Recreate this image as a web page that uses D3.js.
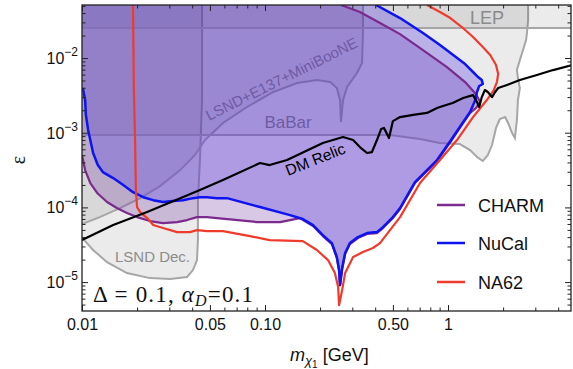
<!DOCTYPE html>
<html><head><meta charset="utf-8">
<script src="https://cdn.jsdelivr.net/npm/d3@7"></script>
<style>body{margin:0;background:#fff}svg{display:block}</style>
</head><body><svg id="c" width="573" height="369"></svg>
<script>
// ---------- tick values ----------
const xMajor = [0.01, 0.05, 0.1, 0.5, 1];
const xMajorLabels = ["0.01", "0.05", "0.10", "0.50", "1"];
const xMinor = [0.02, 0.03, 0.04, 0.06, 0.07, 0.08, 0.09, 0.2, 0.3, 0.4, 0.6, 0.7, 0.8, 0.9, 2, 3, 4];
const yMajor = [1e-5, 1e-4, 1e-3, 1e-2];
const yMajorExp = ["−5", "−4", "−3", "−2"];
const yMinor = [5e-6, 6e-6, 7e-6, 8e-6, 9e-6, 2e-5, 3e-5, 4e-5, 5e-5, 6e-5, 7e-5, 8e-5, 9e-5,
  2e-4, 3e-4, 4e-4, 5e-4, 6e-4, 7e-4, 8e-4, 9e-4, 2e-3, 3e-3, 4e-3, 5e-3, 6e-3, 7e-3, 8e-3, 9e-3,
  2e-2, 3e-2, 4e-2, 5e-2];

// ---------- NuCal (blue) ----------
const nucalX = [0.0101,0.0104,0.0105,0.0108,0.0111,0.0115,0.0122,0.0130,0.0148,0.0168,0.0190,0.0216,0.0245,0.0277,0.0314,0.0357,0.0404,0.0441,0.0482,0.0547,0.0620,0.0939,0.137,0.161,0.183,0.207,0.232,0.247,0.254,0.257,0.264,0.274,0.291,0.322,0.361,0.409,0.441,0.500,0.547,0.660,0.871,1.03,1.19,1.32,1.41,1.44,1.48,1.55,1.53,1.46,1.37,1.24,1.09,0.904,0.730,0.547,0.404];
const nucalY = [0.00397,0.00274,0.00173,0.00109,0.000798,0.000535,0.000369,0.000297,0.000247,0.000199,0.000160,0.000137,0.000125,0.000118,0.000122,0.000125,0.000133,0.000137,0.000137,0.000133,0.000133,0.000101,0.0000789,0.0000698,0.0000580,0.0000426,0.0000333,0.0000216,0.0000145,0.00000912,0.0000154,0.0000245,0.0000333,0.0000401,0.0000453,0.0000467,0.0000545,0.0000742,0.0000980,0.000218,0.000431,0.000773,0.00131,0.00189,0.00274,0.00351,0.00422,0.00449,0.00507,0.00557,0.00650,0.00831,0.0106,0.0149,0.0216,0.0343,0.0513];

// ---------- CHARM (purple) ----------
const charmX = [0.0100,0.0104,0.0111,0.0121,0.0137,0.0155,0.0176,0.0200,0.0235,0.0277,0.0331,0.0375,0.0425,0.0482,0.0547,0.0904,0.121,0.155,0.183,0.207,0.232,0.247,0.254,0.257,0.264,0.274,0.291,0.322,0.361,0.409,0.441,0.500,0.547,0.660,0.871,1.03,1.19,1.32,1.42,1.50,1.42,1.24,0.987,0.730,0.547,0.425,0.330,0.260];
const charmY = [0.000502,0.000316,0.000212,0.000156,0.000118,0.0000980,0.0000840,0.0000742,0.0000656,0.0000617,0.0000636,0.0000677,0.0000742,0.0000742,0.0000720,0.0000636,0.0000636,0.0000720,0.0000562,0.0000413,0.0000323,0.0000210,0.0000140,0.00000912,0.0000149,0.0000237,0.0000323,0.0000388,0.0000440,0.0000453,0.0000529,0.0000720,0.0000951,0.000212,0.000418,0.000750,0.00127,0.00184,0.00214,0.00258,0.00330,0.00477,0.00757,0.0128,0.0209,0.0294,0.0413,0.0513];

// ---------- NA62 (red) ----------
const na62X = [0.0190,0.0192,0.0195,0.0197,0.0200,0.0208,0.0227,0.0245,0.0277,0.0331,0.0389,0.0425,0.0482,0.0589,0.0828,0.106,0.161,0.192,0.221,0.241,0.251,0.254,0.264,0.274,0.303,0.343,0.389,0.425,0.482,0.547,0.703,0.904,1.12,1.37,1.63,1.78,1.85,1.88,1.83,1.70,1.55,1.37,1.19,1.03,0.904,0.768];
const na62Y = [0.0513,0.00373,0.000798,0.000171,0.000101,0.0000866,0.0000720,0.0000580,0.0000529,0.0000467,0.0000467,0.0000497,0.0000482,0.0000482,0.0000413,0.0000365,0.0000354,0.0000269,0.0000197,0.0000132,0.00000857,0.00000492,0.00000782,0.0000132,0.0000216,0.0000252,0.0000286,0.0000333,0.0000497,0.0000742,0.000212,0.000431,0.000798,0.00162,0.00274,0.00373,0.00477,0.00611,0.00806,0.0110,0.0140,0.0191,0.0260,0.0343,0.0413,0.0513];

// ---------- DM relic (black) ----------
const relicX = [0.0100,0.0148,0.0227,0.0344,0.0441,0.0589,0.0939,0.106,0.132,0.207,0.267,0.303,0.330,0.361,0.384,0.409,0.431,0.447,0.476,0.500,0.547,0.644,0.768,0.871,0.939,1.06,1.21,1.37,1.44,1.48,1.53,1.59,1.65,1.74,1.81,1.88,2.10,2.47,3.06,3.75,4.76];
const relicY = [0.0000365,0.0000580,0.0000866,0.000133,0.000171,0.000232,0.000393,0.000369,0.000431,0.000728,0.000875,0.000798,0.000643,0.000535,0.000551,0.000798,0.00112,0.00116,0.000849,0.00143,0.00162,0.00173,0.00184,0.00214,0.00228,0.00250,0.00291,0.00319,0.00258,0.00221,0.00300,0.00373,0.00351,0.00300,0.00351,0.00397,0.00435,0.00507,0.00592,0.00690,0.00806];

// ---------- grey excluded regions ----------
const lsndDecX = [0.0100,0.0104,0.0115,0.0137,0.0176,0.0235,0.0303,0.0375,0.0404,0.0425,0.0430,0.0430,0.0441,0.0453,0.0453];
const lsndDecY = [0.0000388,0.0000354,0.0000269,0.0000185,0.0000132,0.0000113,0.0000110,0.0000117,0.0000145,0.0000197,0.0000365,0.000125,0.000431,0.00274,0.07];
const e137X = [0.0100,0.0125,0.0161,0.0208,0.0267,0.0344,0.0414,0.0470,0.0589,0.0797,0.111,0.150,0.192,0.227,0.247,0.257,0.260,0.267,0.281,0.318,0.339,0.343,0.343];
const e137Y = [0.0000598,0.0000742,0.0000980,0.000133,0.000193,0.000316,0.000502,0.000798,0.00135,0.00221,0.00351,0.00463,0.00507,0.00477,0.00397,0.00274,0.00139,0.00274,0.00409,0.00630,0.00857,0.0216,0.07];
const babarX = [0.0100,0.482,0.703,0.904,1.16,1.32,1.44,1.55,1.65,1.74,1.83,1.92,2.05,2.13,2.24,2.32,2.38,2.41,2.47,2.41,2.38,2.47,2.57,2.67,2.70,2.74,2.74];
const babarY = [0.000931,0.000931,0.000823,0.000728,0.000705,0.000586,0.000472,0.000418,0.000502,0.000684,0.00116,0.00152,0.00162,0.00135,0.000991,0.000849,0.00148,0.00274,0.00397,0.00540,0.00690,0.00940,0.0128,0.0174,0.0216,0.0323,0.07];
const lepX = [0.0100, 4.70];
const lepY = [0.0252, 0.0252];

// ---------- legend ----------
const legendNames = ["CHARM", "NuCal", "NA62"];
const legendColors = ["#7b2a8e", "#0d14f0", "#ef3b2c"];

// ---------- layout ----------
const L = 82, R = 571, T = 5, B = 311;
const x = d3.scaleLog().domain([0.01, 4.7]).range([L, R]);
const y = d3.scaleLog().domain([4.1e-6, 0.0513]).range([B, T]);
const xLo = 0.009, yHi = 0.07;

const svg = d3.select("#c");
svg.append("rect").attr("width", 573).attr("height", 369).attr("fill", "#fff");
svg.append("clipPath").attr("id", "clip").append("rect")
  .attr("x", L).attr("y", T).attr("width", R - L).attr("height", B - T);
const plot = svg.append("g").attr("clip-path", "url(#clip)");

const zip = (xs, ys) => xs.map((v, i) => [v, ys[i]]);
const line = d3.line().x(d => x(d[0])).y(d => y(d[1]));

const grayFill = "rgba(0,0,0,0.08)", grayStroke = "#a6a6a6";
function grayRegion(pts, closing) {
  plot.append("path").attr("d", line(pts.concat(closing)) + "Z").attr("fill", grayFill);
  plot.append("path").attr("d", line(pts)).attr("fill", "none").attr("stroke", grayStroke).attr("stroke-width", 2);
}
grayRegion(zip(lsndDecX, lsndDecY), [[xLo, yHi], [xLo, lsndDecY[0]]]);
grayRegion(zip(e137X, e137Y), [[xLo, yHi], [xLo, e137Y[0]]]);
grayRegion(zip(babarX, babarY), [[xLo, yHi], [xLo, babarY[0]]]);
grayRegion(zip(lepX, lepY), [[5, lepY[1]], [5, yHi], [xLo, yHi], [xLo, lepY[0]]]);

// grey labels (under the coloured fills)
const sans = "Liberation Sans, Arial, sans-serif";
plot.append("text").attr("x", 487).attr("y", 24).attr("text-anchor", "middle")
  .attr("font-family", sans).attr("font-size", 18).attr("fill", "#8a8a8a").text("LEP");
plot.append("text").attr("x", 288).attr("y", 128).attr("text-anchor", "middle")
  .attr("font-family", sans).attr("font-size", 17).attr("fill", "#7a7a7a").text("BaBar");
plot.append("text").attr("transform", "translate(209,121) rotate(-26.5)")
  .attr("font-family", sans).attr("font-size", 15).attr("fill", "#7a7a7a").text("LSND+E137+MiniBooNE");
plot.append("text").attr("x", 115).attr("y", 262)
  .attr("font-family", sans).attr("font-size", 15).attr("fill", "#8c8c8c").text("LSND Dec.");

// coloured fills
const charmPts = zip(charmX, charmY);
const nucalPts = zip(nucalX, nucalY);
plot.append("path").attr("d", line(charmPts.concat([[xLo, yHi], [xLo, charmY[0]]])) + "Z")
  .attr("fill", "rgba(105,35,150,0.25)");
plot.append("path").attr("d", line([[xLo, nucalY[0]]].concat(nucalPts, [[nucalX[nucalX.length - 1], yHi], [xLo, yHi]])) + "Z")
  .attr("fill", "rgba(98,76,228,0.36)");

// curves
plot.append("path").attr("d", line(charmPts)).attr("fill", "none")
  .attr("stroke", legendColors[0]).attr("stroke-width", 2.2).attr("stroke-linejoin", "round");
plot.append("path").attr("d", line(nucalPts)).attr("fill", "none")
  .attr("stroke", legendColors[1]).attr("stroke-width", 2.5).attr("stroke-linejoin", "round");
plot.append("path").attr("d", line(zip(na62X, na62Y))).attr("fill", "none")
  .attr("stroke", legendColors[2]).attr("stroke-width", 2.2).attr("stroke-linejoin", "round");
plot.append("path").attr("d", line(zip(relicX, relicY))).attr("fill", "none")
  .attr("stroke", "#000").attr("stroke-width", 2.2).attr("stroke-linejoin", "round");

plot.append("text").attr("transform", "translate(288,176) rotate(-21.5)")
  .attr("font-family", sans).attr("font-size", 15.5).attr("fill", "#000").text("DM Relic");

// ---------- axes ----------
function addAxis(axis, tr) {
  const a = svg.append("g").attr("transform", tr).call(axis);
  a.select(".domain").remove();
  a.selectAll("line").attr("stroke", "#222");
  return a;
}
const xb = addAxis(d3.axisBottom(x).tickValues(xMajor).tickSize(-6).tickPadding(8)
  .tickFormat((d, i) => xMajorLabels[i]), `translate(0,${B})`);
xb.selectAll("text").attr("font-family", sans).attr("font-size", 16).attr("fill", "#111");
addAxis(d3.axisBottom(x).tickValues(xMinor).tickSize(-3.5).tickFormat(""), `translate(0,${B})`);
addAxis(d3.axisTop(x).tickValues(xMajor).tickSize(-6).tickFormat(""), `translate(0,${T})`);
addAxis(d3.axisTop(x).tickValues(xMinor).tickSize(-3.5).tickFormat(""), `translate(0,${T})`);
addAxis(d3.axisLeft(y).tickValues(yMajor).tickSize(-6).tickFormat(""), `translate(${L},0)`);
addAxis(d3.axisLeft(y).tickValues(yMinor).tickSize(-3.5).tickFormat(""), `translate(${L},0)`);
addAxis(d3.axisRight(y).tickValues(yMajor).tickSize(-6).tickFormat(""), `translate(${R},0)`);
addAxis(d3.axisRight(y).tickValues(yMinor).tickSize(-3.5).tickFormat(""), `translate(${R},0)`);

// y tick labels 10^n
yMajor.forEach((v, i) => {
  const t = svg.append("text").attr("x", 78).attr("y", y(v) + 6).attr("text-anchor", "end")
    .attr("font-family", sans).attr("font-size", 16).attr("fill", "#111");
  t.append("tspan").text("10");
  t.append("tspan").attr("font-size", 12).attr("dy", -8).text(yMajorExp[i]);
});

// frame
svg.append("rect").attr("x", L).attr("y", T).attr("width", R - L).attr("height", B - T)
  .attr("fill", "none").attr("stroke", "#222").attr("stroke-width", 1.3);

// axis titles
svg.append("text").attr("transform", "translate(25,160) rotate(-90)").attr("text-anchor", "middle")
  .attr("font-family", "Liberation Serif, serif").attr("font-size", 20).attr("fill", "#111").text("ε");
const xt = svg.append("text").attr("x", 290).attr("y", 361).attr("font-family", sans)
  .attr("font-size", 18).attr("fill", "#111");
xt.append("tspan").attr("font-style", "italic").text("m");
xt.append("tspan").attr("font-style", "italic").attr("font-size", 13).attr("dy", 4).text("χ");
xt.append("tspan").attr("font-size", 10).attr("dy", 3).text("1");
xt.append("tspan").attr("dy", -7).text(" [GeV]");

// legend
legendNames.forEach((n, i) => {
  const yy = [205, 243, 282][i];
  svg.append("line").attr("x1", 437).attr("x2", 465).attr("y1", yy).attr("y2", yy)
    .attr("stroke", legendColors[i]).attr("stroke-width", 2.5);
  svg.append("text").attr("x", 478).attr("y", yy + 6.5).attr("font-family", sans)
    .attr("font-size", 18).attr("fill", "#111").text(n);
});

// annotation
const an = svg.append("text").attr("x", 93).attr("y", 302)
  .attr("font-family", "Liberation Serif, serif").attr("font-size", 23).attr("fill", "#111")
  .attr("textLength", 160).attr("lengthAdjust", "spacing");
an.append("tspan").text("Δ = 0.1, ");
an.append("tspan").attr("font-style", "italic").text("α");
an.append("tspan").attr("font-style", "italic").attr("font-size", 16).attr("dy", 4).text("D");
an.append("tspan").attr("dy", -4).text("=0.1");
</script></body></html>
